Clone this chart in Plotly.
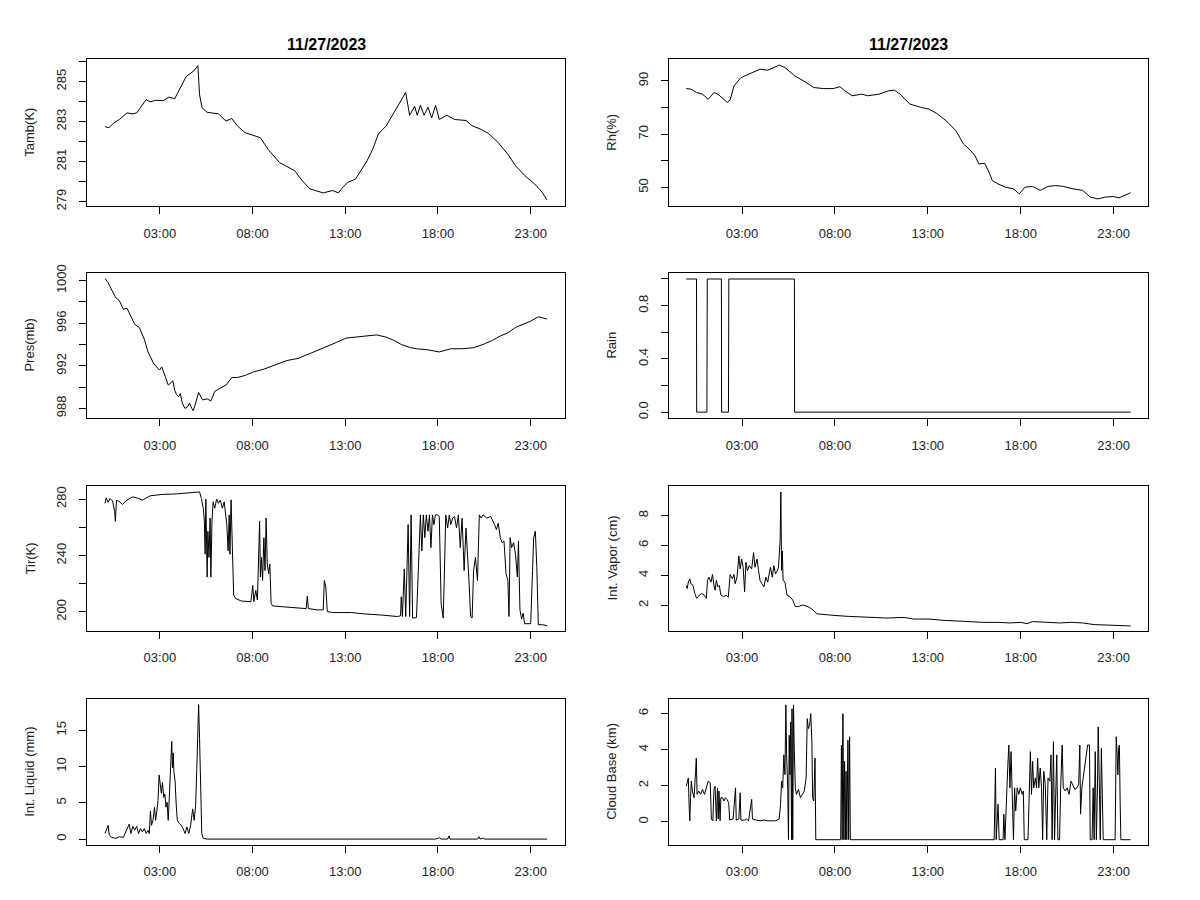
import plotly.graph_objects as go

# Radiometer day, 11/27/2023 -- hours after 00:00

tamb_hours = [0.04, 0.25, 0.52, 0.82, 1.23, 1.54, 1.75, 2.01, 2.26, 2.47, 2.77, 3.18, 3.49, 3.80,
              4.11, 4.42, 4.83, 5.05, 5.14, 5.28, 5.55, 6.16, 6.57, 6.88, 7.19, 7.60, 8.42, 8.83,
              9.45, 10.27, 10.68, 11.09, 11.81, 12.32, 12.63, 12.84, 13.14, 13.55, 13.86, 14.17,
              14.48, 14.79, 15.20, 15.51, 15.81, 16.12, 16.26, 16.47, 16.74, 16.88, 17.05, 17.25,
              17.46, 17.66, 17.87, 18.07, 18.48, 18.89, 19.51, 19.82, 20.33, 20.74, 21.25, 21.77,
              22.18, 22.69, 23.21, 23.62, 23.88]
tamb_k = [282.74, 282.69, 282.93, 283.10, 283.43, 283.38, 283.43, 283.76, 284.09, 283.98, 284.06,
          284.04, 284.22, 284.14, 284.67, 285.25, 285.53, 285.79, 284.34, 283.68, 283.46, 283.38,
          283.02, 283.15, 282.77, 282.44, 282.19, 281.61, 280.95, 280.54, 280.04, 279.63, 279.43,
          279.55, 279.43, 279.68, 279.96, 280.12, 280.57, 281.03, 281.61, 282.39, 282.77, 283.26,
          283.76, 284.26, 284.45, 283.31, 283.76, 283.31, 283.81, 283.31, 283.71, 283.18, 283.81,
          283.10, 283.31, 283.10, 283.05, 282.80, 282.60, 282.39, 281.94, 281.36, 280.79, 280.29,
          279.88, 279.46, 279.08]

rh_hours = [0.00, 0.25, 0.56, 0.87, 1.18, 1.49, 1.70, 2.01, 2.21, 2.36, 2.57, 2.94, 3.35, 3.97,
            4.38, 4.69, 5.00, 5.31, 5.83, 6.45, 6.86, 7.38, 7.90, 8.27, 8.52, 8.93, 9.45, 9.76,
            10.38, 10.89, 11.20, 11.51, 12.03, 12.65, 13.06, 13.48, 13.99, 14.51, 14.92, 15.23,
            15.54, 15.75, 16.06, 16.33, 16.47, 16.78, 17.19, 17.61, 17.92, 18.23, 18.64, 19.05,
            19.47, 19.88, 20.29, 20.81, 21.33, 21.74, 22.15, 22.57, 22.98, 23.29, 23.60, 23.91]
rh_pct = [87.1, 86.9, 85.6, 85.0, 83.1, 85.6, 85.0, 83.1, 81.9, 82.8, 88.1, 91.2, 92.5, 94.4,
          94.0, 95.0, 95.9, 95.0, 91.9, 89.4, 87.5, 87.1, 87.1, 87.8, 86.3, 84.4, 85.0, 84.4,
          85.0, 86.3, 86.5, 85.0, 81.3, 80.0, 79.4, 77.8, 75.0, 71.3, 66.3, 64.4, 61.9, 58.8,
          59.1, 55.1, 52.6, 51.3, 50.1, 49.5, 47.6, 50.1, 50.4, 48.9, 50.4, 50.7, 50.4, 49.5,
          48.9, 46.4, 45.7, 46.4, 46.6, 46.1, 47.0, 48.0]

pres_hours = [0.04, 0.21, 0.41, 0.62, 0.82, 1.03, 1.23, 1.44, 1.64, 1.89, 2.16, 2.36, 2.67, 2.98,
              3.10, 3.29, 3.45, 3.60, 3.70, 3.80, 3.90, 4.01, 4.10, 4.21, 4.35, 4.52, 4.60, 4.72,
              4.80, 4.93, 5.09, 5.30, 5.55, 5.75, 5.96, 6.26, 6.57, 6.88, 7.19, 7.60, 8.01, 8.63,
              9.24, 9.86, 10.47, 10.89, 11.30, 11.91, 12.53, 13.04, 13.55, 14.17, 14.68, 15.20,
              15.61, 16.02, 16.53, 16.84, 17.46, 18.07, 18.69, 19.30, 19.92, 20.43, 20.95, 21.36,
              21.77, 22.18, 22.59, 23.00, 23.41, 23.62, 23.88]
pres_mb = [1000.2, 999.8, 999.1, 998.4, 998.1, 997.3, 997.4, 996.7, 995.9, 995.6, 994.5, 993.3,
           992.2, 991.6, 991.9, 991.0, 990.2, 990.4, 990.6, 989.7, 989.3, 989.1, 989.4, 988.5,
           988.0, 988.2, 988.5, 988.0, 987.8, 988.5, 989.5, 988.8, 988.9, 988.7, 989.6, 989.9,
           990.2, 990.9, 990.9, 991.1, 991.4, 991.7, 992.1, 992.5, 992.7, 993.0, 993.3, 993.7,
           994.2, 994.6, 994.7, 994.8, 994.9, 994.7, 994.4, 994.0, 993.7, 993.6, 993.5, 993.3,
           993.6, 993.6, 993.7, 994.0, 994.4, 994.8, 995.1, 995.6, 995.9, 996.2, 996.6, 996.5,
           996.4]

rain_hours = [0.00, 0.55, 0.56, 1.11, 1.12, 1.13, 1.89, 1.90, 2.27, 2.28, 2.29, 5.82, 5.83, 23.91]
rain_flag = [1, 1, 0, 0, 0.5, 1, 1, 0, 0, 0.5, 1, 1, 0, 0]

tir_hours = [0.04, 0.10, 0.21, 0.31, 0.45, 0.56, 0.60, 0.66, 0.82, 0.99, 1.23, 1.54, 1.85, 2.06,
             2.47, 3.08, 3.90, 4.72, 5.14, 5.24, 5.34, 5.40, 5.44, 5.48, 5.55, 5.59, 5.65, 5.71,
             5.75, 5.81, 5.87, 5.96, 6.06, 6.16, 6.26, 6.37, 6.47, 6.61, 6.68, 6.74, 6.78, 6.84,
             6.92, 6.98, 7.09, 7.39, 7.91, 8.01, 8.07, 8.17, 8.26, 8.34, 8.38, 8.42, 8.48, 8.54,
             8.61, 8.67, 8.73, 8.79, 8.87, 8.93, 9.00, 9.08, 9.86, 10.89, 10.95, 11.01, 11.50,
             11.81, 11.87, 11.95, 12.03, 12.32, 13.35, 13.97, 14.99, 15.81, 15.98, 16.02, 16.08,
             16.18, 16.26, 16.39, 16.47, 16.55, 16.63, 16.84, 16.94, 17.05, 17.13, 17.21, 17.29,
             17.37, 17.46, 17.54, 17.62, 17.70, 17.78, 17.86, 17.97, 18.07, 18.17, 18.28, 18.34,
             18.42, 18.52, 18.61, 18.69, 18.79, 18.89, 19.00, 19.10, 19.20, 19.30, 19.41, 19.51,
             19.61, 19.67, 19.76, 19.84, 19.92, 20.02, 20.13, 20.23, 20.33, 20.43, 20.64, 20.84,
             21.05, 21.15, 21.25, 21.36, 21.46, 21.56, 21.67, 21.77, 21.83, 21.89, 21.97, 22.08,
             22.18, 22.28, 22.34, 22.42, 22.51, 22.59, 22.67, 23.00, 23.10, 23.16, 23.25, 23.33,
             23.41, 23.62, 23.88]
tir_k = [277.0, 280.9, 277.7, 280.5, 278.6, 271.2, 264.2, 279.3, 278.1, 276.3, 279.3, 281.6,
         280.5, 279.3, 282.3, 283.3, 283.7, 284.7, 285.1, 280.5, 273.5, 264.2, 240.9, 280.0,
         224.7, 257.2, 238.6, 266.5, 224.7, 264.2, 278.1, 273.5, 280.0, 277.0, 279.3, 273.5,
         278.1, 261.9, 243.3, 268.8, 240.9, 279.5, 245.6, 211.9, 209.5, 207.7, 207.2, 218.8,
         207.2, 215.3, 208.4, 243.3, 264.2, 224.7, 238.6, 222.3, 252.6, 229.3, 266.5, 234.0,
         227.0, 234.0, 206.0, 204.2, 203.3, 202.3, 211.2, 202.3, 201.4, 201.4, 222.3, 217.7,
         200.2, 199.5, 199.5, 198.6, 197.7, 196.7, 197.2, 210.7, 196.7, 230.5, 196.7, 261.9,
         196.7, 268.8, 195.6, 196.0, 229.3, 268.8, 243.3, 268.8, 252.6, 268.8, 257.2, 268.8,
         245.6, 268.8, 261.9, 268.8, 268.8, 267.7, 206.0, 195.6, 224.7, 268.8, 259.5, 268.8,
         261.9, 266.5, 267.7, 259.5, 268.8, 245.6, 266.5, 229.3, 259.5, 240.9, 222.3, 196.7,
         195.6, 229.3, 238.6, 222.3, 268.8, 266.5, 268.8, 266.5, 267.7, 261.9, 258.4, 263.0,
         252.6, 249.1, 250.2, 227.0, 222.3, 196.7, 252.6, 245.6, 249.1, 240.9, 224.7, 250.2,
         201.4, 194.9, 199.1, 191.6, 191.6, 229.3, 252.6, 257.2, 231.6, 190.9, 190.9, 190.2]

vapor_hours = [0.00, 0.05, 0.11, 0.19, 0.25, 0.36, 0.46, 0.56, 0.71, 0.83, 0.98, 1.08, 1.14, 1.22,
               1.33, 1.41, 1.49, 1.55, 1.62, 1.70, 1.78, 1.86, 2.01, 2.15, 2.26, 2.36, 2.48, 2.57,
               2.63, 2.73, 2.83, 2.90, 2.98, 3.06, 3.14, 3.21, 3.29, 3.39, 3.52, 3.62, 3.70, 3.81,
               3.89, 3.97, 4.07, 4.18, 4.28, 4.38, 4.53, 4.63, 4.71, 4.80, 4.90, 4.96, 5.05, 5.09,
               5.13, 5.17, 5.21, 5.31, 5.42, 5.58, 5.73, 5.87, 6.04, 6.24, 6.55, 6.82, 7.03, 7.48,
               8.00, 8.72, 9.76, 10.79, 11.72, 12.24, 13.06, 13.89, 14.92, 15.95, 16.78, 17.40,
               18.02, 18.33, 18.64, 19.47, 20.09, 20.71, 21.33, 21.95, 22.77, 23.39, 23.91]
vapor_cm = [3.33, 3.12, 3.55, 3.77, 3.44, 3.33, 2.79, 2.46, 2.68, 2.79, 2.68, 2.46, 3.66, 3.88,
            3.55, 4.06, 3.33, 3.01, 3.66, 3.23, 3.33, 2.68, 2.57, 2.68, 2.53, 4.06, 3.77, 4.06,
            3.44, 3.88, 5.30, 4.43, 5.09, 4.54, 2.90, 4.87, 4.32, 4.65, 4.43, 5.52, 4.54, 5.09,
            4.32, 3.66, 3.44, 3.23, 3.88, 3.55, 4.54, 3.88, 4.65, 4.10, 4.32, 4.54, 6.29, 9.57,
            4.32, 5.63, 3.66, 3.55, 2.68, 2.57, 2.35, 1.91, 1.91, 2.02, 1.91, 1.69, 1.43, 1.37,
            1.32, 1.26, 1.21, 1.15, 1.19, 1.08, 1.08, 0.99, 0.93, 0.86, 0.86, 0.82, 0.86, 0.77,
            0.91, 0.86, 0.82, 0.86, 0.82, 0.71, 0.69, 0.67, 0.62]

liquid_hours = [0.04, 0.10, 0.16, 0.21, 0.27, 0.41, 0.62, 0.82, 1.03, 1.13, 1.23, 1.34, 1.44, 1.54,
                1.64, 1.75, 1.85, 1.95, 2.06, 2.16, 2.26, 2.36, 2.43, 2.49, 2.55, 2.63, 2.71, 2.77,
                2.84, 2.90, 2.96, 3.02, 3.08, 3.14, 3.21, 3.27, 3.33, 3.39, 3.45, 3.51, 3.57, 3.64,
                3.68, 3.72, 3.76, 3.82, 3.88, 3.94, 4.05, 4.15, 4.25, 4.36, 4.46, 4.56, 4.66, 4.77,
                4.85, 4.93, 4.99, 5.05, 5.09, 5.14, 5.20, 5.26, 5.34, 5.55, 17.87, 18.07, 18.17,
                18.52, 18.59, 18.65, 20.13, 20.21, 20.27, 20.43, 20.50, 23.88]
liquid_mm = [0.77, 1.22, 1.67, 1.90, 0.54, 0.23, 0.09, 0.32, 0.23, 0.86, 1.22, 2.04, 0.77, 1.76,
             1.22, 1.76, 0.77, 1.45, 1.00, 1.45, 0.77, 1.22, 0.77, 3.85, 1.90, 2.58, 4.39, 2.58,
             3.94, 5.29, 8.82, 7.10, 6.29, 7.78, 5.75, 6.20, 4.39, 5.07, 2.58, 5.75, 8.91, 13.44,
             9.82, 11.86, 9.14, 8.01, 4.84, 2.58, 2.13, 1.90, 1.45, 0.77, 1.67, 0.77, 1.90, 4.16,
             2.58, 4.62, 9.59, 13.89, 18.51, 13.89, 7.10, 0.77, 0.09, 0.0, 0.0, 0.18, 0.0,
             0.0, 0.45, 0.0, 0.0, 0.32, 0.0, 0.14, 0.0, 0.0]

cloud_hours = [0.00, 0.05, 0.11, 0.15, 0.19, 0.23, 0.27, 0.33, 0.42, 0.50, 0.54, 0.58, 0.67, 0.77,
               0.87, 0.98, 1.08, 1.18, 1.29, 1.35, 1.43, 1.49, 1.55, 1.62, 1.68, 1.72, 1.76, 1.82,
               1.86, 1.95, 2.03, 2.11, 2.19, 2.28, 2.34, 2.52, 2.65, 2.69, 2.83, 2.90, 2.94, 3.14,
               3.25, 3.35, 3.52, 3.56, 3.76, 3.97, 4.18, 4.38, 4.80, 5.00, 5.07, 5.13, 5.19, 5.25,
               5.31, 5.36, 5.40, 5.46, 5.50, 5.54, 5.58, 5.62, 5.67, 5.69, 5.73, 5.77, 5.81, 5.87,
               5.93, 6.04, 6.14, 6.24, 6.35, 6.45, 6.51, 6.57, 6.64, 6.70, 6.76, 6.80, 6.86, 6.93,
               6.97, 8.31, 8.35, 8.39, 8.43, 8.48, 8.52, 8.56, 8.60, 8.64, 8.70, 8.74, 8.79, 8.83,
               16.57, 16.64, 16.68, 16.78, 16.84, 17.05, 17.09, 17.15, 17.24, 17.30, 17.36, 17.42,
               17.48, 17.55, 17.61, 17.67, 17.73, 17.81, 17.90, 17.98, 18.08, 18.14, 18.19, 18.39,
               18.45, 18.52, 18.58, 18.64, 18.70, 18.79, 18.85, 18.91, 18.97, 19.05, 19.12, 19.18,
               19.24, 19.32, 19.40, 19.47, 19.57, 19.63, 19.69, 19.76, 19.82, 19.88, 19.94, 20.00,
               20.09, 20.15, 20.23, 20.29, 20.40, 20.50, 20.60, 20.71, 20.81, 20.91, 21.02, 21.12,
               21.18, 21.22, 21.29, 21.37, 21.45, 21.53, 21.60, 21.70, 21.74, 21.84, 21.90, 21.95,
               22.01, 22.07, 22.13, 22.17, 22.24, 22.28, 22.34, 22.40, 22.44, 23.08, 23.14, 23.19,
               23.23, 23.27, 23.31, 23.35, 23.39, 23.91]
cloud_km = [1.97, 2.25, 2.43, 0.97, 0.05, 1.33, 2.25, 1.70, 1.33, 2.80, 3.53, 1.52, 1.70, 1.52,
            1.79, 1.52, 1.88, 2.25, 2.16, 0.15, 0.05, 1.79, 1.97, 0.05, 1.88, 0.15, 1.70, 0.05,
            1.33, 1.33, 1.15, 1.33, 1.24, 1.06, 0.09, 0.15, 1.88, 0.09, 0.15, 1.61, 0.09, 0.09,
            0.15, 0.05, 1.24, 0.15, 0.09, 0.05, 0.09, 0.05, 0.05, 0.15, 0.88, 2.25, 1.88, 3.71,
            2.61, 6.49, 3.71, 1.88, -1.0, 4.81, 2.61, 5.54, -1.0, 6.27, -1.0, 6.49, 4.08, 1.88,
            1.52, 1.79, 1.33, 1.52, 1.70, 2.43, 5.72, 5.17, 5.36, 6.00, 4.44, 1.33, 1.15, 3.53,
            -1.0, -1.0, 4.26, -1.0, 6.00, -1.0, 3.35, -1.0, 2.80, -1.0, 4.53, -1.0, 4.72, -1.0,
            -1.0, 2.98, -1.0, 0.97, -1.0, -1.0, 0.42, -1.0, 1.88, 2.98, 4.26, 1.88,
            3.89, 0.97, -1.0, 1.88, 0.60, 1.88, 1.52, 1.88, 1.52, 1.70, -1.0, -1.0,
            1.70, 3.89, 1.52, 3.35, 1.88, 2.43, 1.88, 3.53, 1.88, 2.98, 1.88, -1.0,
            2.80, 2.07, -1.0, 2.43, 2.25, 3.71, -1.0, 4.44, -1.0, 1.88, 3.71, -1.0,
            -1.0, 1.88, 4.26, 1.88, 1.70, 1.88, 1.52, 2.25, 1.97, 1.79, 1.88, 2.07,
            4.26, 0.42, 1.88, 2.61, 3.07, 3.71, 4.26, 4.26, -1.0, -1.0, 1.88, -1.0,
            3.89, -1.0, 1.88, 5.27, 1.52, -1.0, 4.08, 1.52, -1.0, -1.0, 4.72, 3.71,
            2.61, 4.08, 4.26, 1.15, -1.0, -1.0]

hour_ticks = [3, 8, 13, 18, 23]
hour_labels = ['03:00', '08:00', '13:00', '18:00', '23:00']

FONT = 'Liberation Sans, Arial, sans-serif'

# (x, y, label, y range, tick values, tick labels) -- laid out row by row, left then right
panels = [
    (tamb_hours, tamb_k, 'Tamb(K)', [278.77, 286.11],
     [279, 280, 281, 282, 283, 284, 285, 286], ['279', '', '281', '', '283', '', '285', '']),
    (rh_hours, rh_pct, 'Rh(%)', [43.0, 98.1],
     [50, 60, 70, 80, 90], ['50', '', '70', '', '90']),
    (pres_hours, pres_mb, 'Pres(mb)', [987.1, 1000.7],
     [988, 990, 992, 994, 996, 998, 1000], ['988', '', '992', '', '996', '', '1000']),
    (rain_hours, rain_flag, 'Rain', [-0.044, 1.044],
     [0, 0.2, 0.4, 0.6, 0.8, 1.0], ['0.0', '', '0.4', '', '0.8', '']),
    (tir_hours, tir_k, 'Tir(K)', [186.5, 289.3],
     [200, 220, 240, 260, 280], ['200', '', '240', '', '280']),
    (vapor_hours, vapor_cm, 'Int. Vapor (cm)', [0.29, 9.97],
     [2, 4, 6, 8], ['2', '4', '6', '8']),
    (liquid_hours, liquid_mm, 'Int. Liquid (mm)', [-0.78, 19.3],
     [0, 5, 10, 15], ['0', '5', '10', '15']),
    (cloud_hours, cloud_km, 'Cloud Base (km)', [-1.28, 6.82],
     [0, 2, 4, 6], ['0', '2', '4', '6']),
]

W, H = 1200, 900
col_px = [(87, 565), (669, 1148)]
row_px = [(51, 200), (268, 415), (484, 631), (700, 848)]

fig = go.Figure()
annotations = []
layout = {}

for i, (xs, ys, label, yrange, yticks, ylabels) in enumerate(panels):
    row, col = divmod(i, 2)
    n = i + 1
    xname = 'x' if n == 1 else f'x{n}'
    yname = 'y' if n == 1 else f'y{n}'

    fig.add_trace(go.Scatter(
        x=xs, y=ys, mode='lines', xaxis=xname, yaxis=yname,
        line=dict(color='black', width=1), showlegend=False, hoverinfo='x+y'
    ))

    x0, x1 = col_px[col]
    top, bottom = row_px[row]
    axis_common = dict(
        showgrid=False, zeroline=False, showline=True, mirror=True,
        linecolor='black', linewidth=1, ticks='outside', ticklen=7,
        tickcolor='black', tickwidth=1,
        tickfont=dict(family=FONT, size=13, color='#222'),
    )
    layout['xaxis' if n == 1 else f'xaxis{n}'] = dict(
        axis_common, domain=[x0 / W, x1 / W], anchor=yname,
        range=[-0.93, 24.85], tickvals=hour_ticks, ticktext=hour_labels,
        ticklabelstandoff=8,
    )
    layout['yaxis' if n == 1 else f'yaxis{n}'] = dict(
        axis_common, domain=[1 - bottom / H, 1 - top / H], anchor=xname,
        range=yrange, tickvals=yticks, ticktext=ylabels, tickangle=-90,
        ticklabelstandoff=8,
    )

    annotations.append(dict(
        text=label, textangle=-90, showarrow=False,
        xref='paper', yref='paper', x=(x0 - 57) / W, y=1 - (top + bottom) / 2 / H,
        xanchor='center', yanchor='middle',
        font=dict(family=FONT, size=13, color='#222'),
    ))

# date title over each column
for x0, x1 in col_px:
    annotations.append(dict(
        text='<b>11/27/2023</b>', showarrow=False,
        xref='paper', yref='paper', x=(x0 + x1) / 2 / W, y=1 - 36 / H,
        xanchor='center', yanchor='middle',
        font=dict(family=FONT, size=16, color='black'),
    ))

fig.update_layout(
    width=W, height=H,
    margin=dict(l=0, r=0, t=0, b=0),
    paper_bgcolor='white', plot_bgcolor='white',
    annotations=annotations,
    **layout,
)

# pin the graph div to the window corner so page margins don't shift it
pin = ("document.body.style.margin = '0';"
       "var d = document.getElementById('{plot_id}');"
       "d.style.position = 'fixed'; d.style.top = '0px'; d.style.left = '0px';")
fig.write_html('out.html', config={'displayModeBar': False}, post_script=pin)
